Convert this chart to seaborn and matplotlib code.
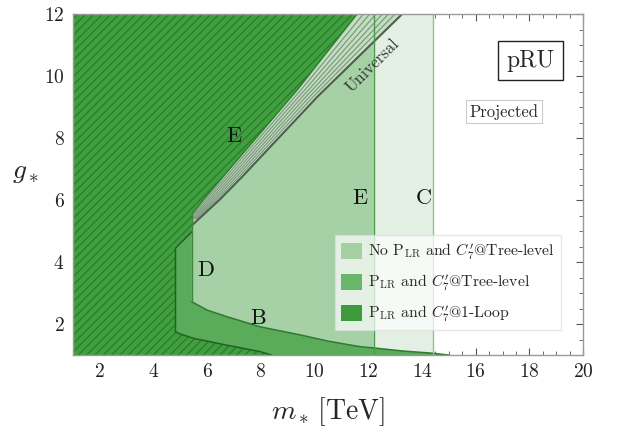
import numpy as np
import pandas as pd
import matplotlib
matplotlib.use("Agg")
import matplotlib.pyplot as plt
import seaborn as sns
from matplotlib.patches import Patch
from matplotlib.ticker import MultipleLocator

# ---------------- data ----------------
x_range = [1, 20]
g_range = [1, 12]
xticks = [2, 4, 6, 8, 10, 12, 14, 16, 18, 20]
yticks = [2, 4, 6, 8, 10, 12]

m_projected = 14.4          # C : projected reach
m_tree = 12.2               # E : tree-level bound (no P_LR)

# upper "B" curve: lower edge of the No-P_LR tree-level region
upper_x = [5.43, 6.0, 6.73, 7.98, 9.47, 10.5, 11.7, 12.2, 13.3, 14.4, 15.0]
upper_g = [2.72, 2.45, 2.24, 1.91, 1.65, 1.45, 1.27, 1.23, 1.13, 1.06, 1.0]

# lower curve: edge of the 1-loop region
lower_x = [4.82, 5.0, 5.49, 6.73, 7.98, 8.4]
lower_g = [1.75, 1.68, 1.54, 1.32, 1.11, 1.0]

# D : left edges
d_loop_x = [4.82, 4.82, 5.43]
d_loop_g = [1.75, 4.45, 4.98]
d_tree_x = 5.43

# E : excluded (hatched) diagonal edge
diag_x = [5.44, 5.85, 9.35, 11.58]
diag_g = [5.55, 6.0, 9.55, 12.0]

# "Universal" line
univ_x = [5.45, 6.45, 7.3, 10.1, 13.26]
univ_g = [5.2, 6.0, 6.75, 9.33, 12.0]

legend_labels = [r"No P$_{\mathrm{LR}}$ and $C_7'$@Tree-level",
                 r"P$_{\mathrm{LR}}$ and $C_7'$@Tree-level",
                 r"P$_{\mathrm{LR}}$ and $C_7'$@1-Loop"]

# ---------------- style ----------------
sns.set_theme(style="ticks")
plt.rcParams["font.family"] = ["cmr10", "DejaVu Serif"]
plt.rcParams["mathtext.fontset"] = "cm"
plt.rcParams["axes.formatter.use_mathtext"] = True
plt.rcParams["hatch.linewidth"] = 0.9

c_vlight = "#e3efe3"
c_light = "#a6d0a6"
c_band = "#5aab5a"
c_hatch = "#40a040"
c_hatch_line = "#2c7a2c"
c_leg = ["#a3cfa3", "#6ab66a", "#3d9a3d"]

fig = plt.figure(figsize=(6.23, 4.40), dpi=100)
ax = fig.add_axes([0.117, 0.193, 0.819, 0.775])
ax.set_xlim(*x_range)
ax.set_ylim(*g_range)

# very light projected region
ax.fill([x_range[0], m_projected, m_projected, x_range[0]],
        [g_range[0], g_range[0], g_range[1], g_range[1]],
        color=c_vlight, lw=0, zorder=1)

# light region (No P_LR, tree level)
lx = [d_tree_x] + [d_tree_x] + diag_x[1:] + [m_tree, m_tree] + upper_x[:8][::-1]
lg = [upper_g[0]] + [diag_g[0]] + diag_g[1:] + [g_range[1], upper_g[7]] + upper_g[:8][::-1]
ax.fill(lx, lg, color=c_light, lw=0, zorder=2)

# band (P_LR regions)
bx = d_loop_x + [d_tree_x] + upper_x + lower_x[::-1]
bg = d_loop_g + [upper_g[0]] + upper_g + lower_g[::-1]
ax.fill(bx, bg, color=c_band, lw=0, zorder=3)

# hatched excluded region
hx = [x_range[0], x_range[0]] + diag_x[::-1] + [d_tree_x] + d_loop_x[::-1] + lower_x[1:]
hg = [g_range[0], g_range[1]] + diag_g[::-1] + [d_loop_g[2]] + d_loop_g[::-1] + lower_g[1:]
ax.fill(hx, hg, facecolor=c_hatch, edgecolor=c_hatch_line, hatch="////", lw=0, zorder=4)

# universal stripes between diagonal and universal line
ng = np.linspace(5.4, 12.0, 80)
dxi = np.interp(ng, diag_g, diag_x)
uxi = np.interp(ng, univ_g, univ_x)
ax.fill_betweenx(ng, dxi, uxi, color="#c2dfc2", lw=0, zorder=4.5)
for f in [0.14, 0.28, 0.42, 0.56, 0.70, 0.84]:
    ax.plot(dxi + f * (uxi - dxi), ng, color="#7f9a7f", lw=0.9, zorder=5)

# boundary lines via seaborn
line_kw = dict(sort=False, estimator=None, ax=ax, zorder=6, legend=False)
sns.lineplot(x=univ_x, y=univ_g, color="#4f5f4f", lw=1.5, **line_kw)
sns.lineplot(x=diag_x, y=diag_g, color="#2e7d2e", lw=1.0, **line_kw)
sns.lineplot(x=upper_x, y=upper_g, color="#2f7a2f", lw=1.1, **line_kw)
sns.lineplot(x=d_loop_x[::-1] + lower_x[1:],
             y=d_loop_g[::-1] + lower_g[1:],
             color="#245f24", lw=1.1, **line_kw)
sns.lineplot(x=[d_tree_x, d_tree_x], y=[upper_g[0], diag_g[0]], color="#3a8a3a", lw=1.0, **line_kw)
ax.axvline(m_tree, color="#4a9a4a", lw=1.0, zorder=6)
ax.axvline(m_projected, color="#8cc48c", lw=1.0, zorder=6)

# region labels
lab_kw = dict(fontsize=16, ha="center", va="center", color="#111111", zorder=8)
ax.text(7.0, 8.05, "E", **lab_kw)
ax.text(11.7, 6.05, "E", **lab_kw)
ax.text(14.05, 6.05, "C", **lab_kw)
ax.text(5.95, 3.75, "D", **lab_kw)
ax.text(7.9, 2.2, "B", **lab_kw)
ax.text(12.15, 10.35, "Universal", fontsize=12, rotation=45, ha="center", va="center",
        color="#333333", zorder=8, rotation_mode="anchor")

ax.text(18.05, 10.5, "pRU", fontsize=17, ha="center", va="center", zorder=8,
        bbox=dict(boxstyle="square,pad=0.35", fc="white", ec="#222222", lw=1.0))
ax.text(17.05, 8.85, "Projected", fontsize=12, ha="center", va="center", zorder=8,
        bbox=dict(boxstyle="square,pad=0.2", fc="white", ec="#cccccc", lw=0.8))

handles = [Patch(facecolor=c, edgecolor="none") for c in c_leg]
leg = ax.legend(handles, legend_labels, loc="lower right", bbox_to_anchor=(0.957, 0.073),
                borderaxespad=0.0,
                fontsize=11.3, frameon=True, fancybox=False, framealpha=0.7,
                edgecolor="#dddddd", handlelength=1.3, handleheight=1.2,
                handletextpad=0.4, labelspacing=0.62, borderpad=0.4)
leg.set_zorder(9)

# axes styling
ax.set_xticks(xticks)
ax.set_yticks(yticks)
ax.xaxis.set_minor_locator(MultipleLocator(0.5))
ax.yaxis.set_minor_locator(MultipleLocator(0.5))
ax.tick_params(which="both", direction="in", top=True, right=True, color="#555555",
               labelsize=14, labelcolor="#222222", pad=6)
ax.tick_params(which="major", length=5, width=0.8)
ax.tick_params(which="minor", length=3, width=0.6)
for s in ax.spines.values():
    s.set_color("#999999")
    s.set_linewidth(1.0)
    s.set_zorder(10)

ax.set_xlabel(r"$m_*\,[\mathrm{TeV}]$", fontsize=20, labelpad=10)
ax.set_ylabel(r"$g_*$", fontsize=20, rotation=0, labelpad=22)
ax.yaxis.set_label_coords(-0.092, 0.5)

fig.savefig("out.png", dpi=100)
